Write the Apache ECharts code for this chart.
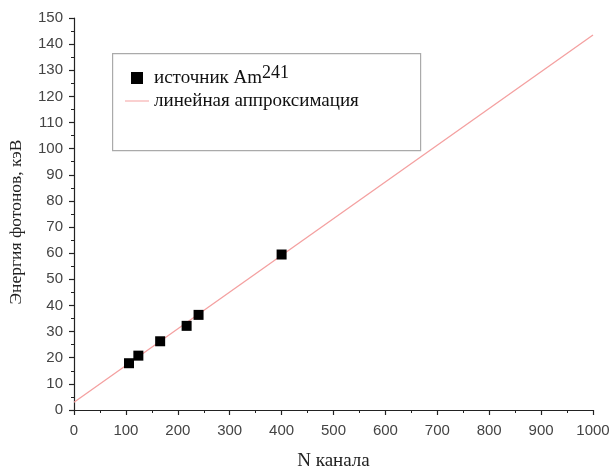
<!DOCTYPE html>
<html><head><meta charset="utf-8">
<script src="https://cdn.jsdelivr.net/npm/echarts@6/dist/echarts.min.js"></script>
<style>html,body{margin:0;padding:0;background:#fff}#c{width:611px;height:468px}</style>
</head><body><div id="c"></div>
<script>
const channels = [106, 124, 166, 217, 240, 400];
const energies = [17.9, 20.8, 26.3, 32.2, 36.4, 59.5];
const fitX = [0, 1000];
const fitY = [3.0, 143.5];
const xTitle = 'N канала';
const yTitle = 'Энергия фотонов, кэВ';

const chart = echarts.init(document.getElementById('c'), null, {renderer: 'canvas'});
function axisCommon() {
  return {
    axisLine: {show: true, lineStyle: {color: '#222', width: 1.2}},
    axisTick: {show: true, inside: false, length: 5, lineStyle: {color: '#222', width: 1.2}},
    minorTick: {show: true, splitNumber: 2, length: 3, lineStyle: {color: '#222', width: 1}},
    splitLine: {show: false},
    minorSplitLine: {show: false},
    axisLabel: {color: '#444', fontFamily: 'Liberation Sans', fontSize: 15, formatter: v => String(v), hideOverlap: false},
    nameTextStyle: {color: '#222', fontFamily: 'Liberation Serif', fontSize: 19}
  };
}
const xa = axisCommon();
Object.assign(xa, {type: 'value', min: 0, max: 1000, interval: 100,
  name: xTitle, nameLocation: 'middle', nameGap: 42});
xa.axisLabel.margin = 13;
const ya = axisCommon();
Object.assign(ya, {type: 'value', min: 0, max: 150, interval: 10,
  name: yTitle, nameLocation: 'middle', nameGap: 49});
ya.axisLabel.margin = 11;
ya.nameTextStyle.fontSize = 17.5;
ya.nameTextStyle.padding = [0, 16, 0, 0];

chart.setOption({
  animation: false,
  backgroundColor: '#fff',
  grid: {left: 74, right: 18, top: 18, bottom: 58, containLabel: false, outerBoundsMode: 'none'},
  xAxis: xa,
  yAxis: ya,
  graphic: [{
    type: 'rect', left: 112, top: 53, z: 5,
    shape: {width: 308, height: 97},
    style: {fill: '#fff', stroke: '#aaa', lineWidth: 1.2}
  }],
  legend: {
    left: 125, top: 64, padding: 0, orient: 'vertical', z: 10,
    itemWidth: 24, itemHeight: 12, itemGap: 4,
    textStyle: {fontFamily: 'Liberation Serif', fontSize: 19, color: '#111',
      rich: {sup: {fontFamily: 'Liberation Serif', fontSize: 18, color: '#111', verticalAlign: 'top', padding: [0,0,10,0]}}},
    formatter: function (n) {
      return n === 'src' ? 'источник Am{sup|241}' : 'линейная аппроксимация';
    },
    data: [{name: 'src', icon: 'path://M7,1.5h9v9h-9z', itemStyle: {color: '#000', opacity: 1}},
           {name: 'fit', icon: 'path://M0,5.5h24v1h-24z', itemStyle: {color: '#f4a0a0'}}]
  },
  series: [{
    name: 'fit', type: 'line', showSymbol: false, symbol: 'none',
    lineStyle: {color: '#f4a0a0', width: 1.3}, itemStyle: {color: '#f4a0a0'},
    data: fitX.map((x, i) => [x, fitY[i]]), z: 2
  }, {
    name: 'src', type: 'scatter', symbol: 'rect', symbolSize: 10,
    itemStyle: {color: '#000', opacity: 1},
    data: channels.map((x, i) => [x, energies[i]]), z: 3
  }]
});
</script></body></html>
